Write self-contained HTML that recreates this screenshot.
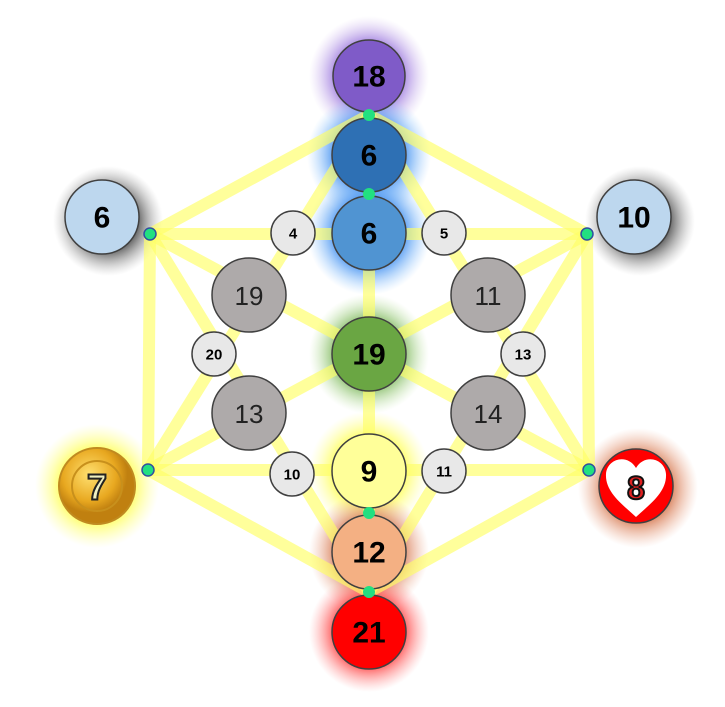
<!DOCTYPE html>
<html><head><style>
html,body{margin:0;padding:0;background:#fff;}
svg{display:block;}
text{font-family:"Liberation Sans",sans-serif;font-weight:bold;text-anchor:middle;dominant-baseline:central;}
</style></head><body>
<svg width="725" height="707" viewBox="0 0 725 707" xmlns="http://www.w3.org/2000/svg">
<defs>
<radialGradient id="gp"><stop offset="0.55" stop-color="#a07fe0" stop-opacity="0.95"/><stop offset="1" stop-color="#d8c4f0" stop-opacity="0"/></radialGradient>
<radialGradient id="gb"><stop offset="0.55" stop-color="#4a94f0" stop-opacity="0.95"/><stop offset="1" stop-color="#a0d0ff" stop-opacity="0"/></radialGradient>
<radialGradient id="gg"><stop offset="0.55" stop-color="#80b860" stop-opacity="0.95"/><stop offset="1" stop-color="#c8e8b0" stop-opacity="0"/></radialGradient>
<radialGradient id="gy"><stop offset="0.55" stop-color="#ffff50" stop-opacity="0.95"/><stop offset="1" stop-color="#ffffa0" stop-opacity="0"/></radialGradient>
<radialGradient id="go"><stop offset="0.55" stop-color="#d8805a" stop-opacity="0.95"/><stop offset="1" stop-color="#f0b8a0" stop-opacity="0"/></radialGradient>
<radialGradient id="gr"><stop offset="0.55" stop-color="#ff4040" stop-opacity="0.95"/><stop offset="1" stop-color="#ffa0a0" stop-opacity="0"/></radialGradient>
<radialGradient id="gk"><stop offset="0.55" stop-color="#505050" stop-opacity="0.85"/><stop offset="1" stop-color="#b0b0b0" stop-opacity="0"/></radialGradient>
<radialGradient id="coin" cx="0.4" cy="0.35"><stop offset="0" stop-color="#ffe070"/><stop offset="0.7" stop-color="#e8a820"/><stop offset="1" stop-color="#c08010"/></radialGradient>
</defs>
<circle cx="369" cy="76" r="60" fill="url(#gp)"/>
<circle cx="369" cy="155" r="62" fill="url(#gb)"/>
<circle cx="369" cy="233" r="62" fill="url(#gb)"/>
<circle cx="369" cy="354" r="60" fill="url(#gg)"/>
<circle cx="369" cy="471" r="60" fill="url(#gy)"/>
<circle cx="369" cy="552" r="60" fill="url(#go)"/>
<circle cx="369" cy="632" r="60" fill="url(#gr)"/>
<circle cx="108" cy="221" r="55" fill="url(#gk)"/>
<circle cx="640" cy="221" r="55" fill="url(#gk)"/>
<circle cx="97" cy="486" r="62" fill="url(#gy)"/>
<circle cx="638" cy="488" r="60" fill="url(#go)"/>
<g stroke="#ffff66" stroke-opacity="0.65" stroke-width="12" fill="none" stroke-linecap="round">
<polygon points="150,234 369,115 587,234 589,470 369,592 148,470"/>
<line x1="150" y1="234" x2="587" y2="234"/>
<line x1="148" y1="470" x2="589" y2="470"/>
<line x1="150" y1="234" x2="369" y2="592"/>
<line x1="150" y1="234" x2="589" y2="470"/>
<line x1="148" y1="470" x2="587" y2="234"/>
<line x1="148" y1="470" x2="369" y2="115"/>
<line x1="587" y1="234" x2="369" y2="592"/>
<line x1="589" y1="470" x2="369" y2="115"/>
<line x1="369" y1="115" x2="369" y2="592"/>
</g>
<g stroke="#404040" stroke-width="1.5">
<circle cx="369" cy="76" r="36" fill="#7f5bc8"/>
<circle cx="369" cy="155" r="37" fill="#2e70b4"/>
<circle cx="369" cy="233" r="37" fill="#5094d2"/>
<circle cx="369" cy="354" r="37" fill="#6aa643"/>
<circle cx="369" cy="471" r="37" fill="#ffff99"/>
<circle cx="369" cy="552" r="37" fill="#f4b083"/>
<circle cx="369" cy="632" r="37" fill="#ff0000"/>
<circle cx="102" cy="217" r="37" fill="#bdd7ee"/>
<circle cx="634" cy="217" r="37" fill="#bdd7ee"/>
<circle cx="249" cy="295" r="37" fill="#aeaaaa"/>
<circle cx="488" cy="295" r="37" fill="#aeaaaa"/>
<circle cx="249" cy="413" r="37" fill="#aeaaaa"/>
<circle cx="488" cy="413" r="37" fill="#aeaaaa"/>
<circle cx="293" cy="233" r="22" fill="#e8e8e8"/>
<circle cx="444" cy="233" r="22" fill="#e8e8e8"/>
<circle cx="214" cy="354" r="22" fill="#e8e8e8"/>
<circle cx="523" cy="354" r="22" fill="#e8e8e8"/>
<circle cx="292" cy="474" r="22" fill="#e8e8e8"/>
<circle cx="444" cy="471" r="22" fill="#e8e8e8"/>
<circle cx="636" cy="486" r="37" fill="#ff0000"/>
</g>
<circle cx="97" cy="486" r="38" fill="url(#coin)" stroke="#c08a20" stroke-width="2"/>
<circle cx="97" cy="486" r="25" fill="none" stroke="#c8901c" stroke-width="2"/>
<path d="M636,517 C622,504 605,492 606,474 C607,459 627,453 636,468 C645,453 665,459 666,474 C667,492 650,504 636,517 Z" fill="#fff"/>
<g font-size="30" fill="#000">
<text x="369" y="77">18</text>
<text x="369" y="156">6</text>
<text x="369" y="234">6</text>
<text x="369" y="355">19</text>
<text x="369" y="472">9</text>
<text x="369" y="553">12</text>
<text x="369" y="633">21</text>
<text x="102" y="218">6</text>
<text x="634" y="218">10</text>
</g>
<g font-size="26" fill="#222">
<text x="249" y="296" style="font-weight:normal">19</text>
<text x="488" y="296" style="font-weight:normal">11</text>
<text x="249" y="414" style="font-weight:normal">13</text>
<text x="488" y="414" style="font-weight:normal">14</text>
</g>
<g font-size="15" fill="#000">
<text x="293" y="234">4</text>
<text x="444" y="234">5</text>
<text x="214" y="355">20</text>
<text x="523" y="355">13</text>
<text x="292" y="475">10</text>
<text x="444" y="472">11</text>
</g>
<text x="97" y="487" font-size="36" fill="#f0f0c0" stroke="#222" stroke-width="2">7</text>
<text x="636" y="488" font-size="32" fill="#e02020" stroke="#111" stroke-width="2">8</text>
<g fill="#22e080" stroke="#3050a0" stroke-width="1.5">
<circle cx="150" cy="234" r="6"/><circle cx="587" cy="234" r="6"/>
<circle cx="148" cy="470" r="6"/><circle cx="589" cy="470" r="6"/>
<circle cx="369" cy="115" r="6" stroke="none"/><circle cx="369" cy="194" r="6" stroke="none"/>
<circle cx="369" cy="513" r="6" stroke="none"/><circle cx="369" cy="592" r="6" stroke="none"/>
</g>
</svg>
</body></html>
